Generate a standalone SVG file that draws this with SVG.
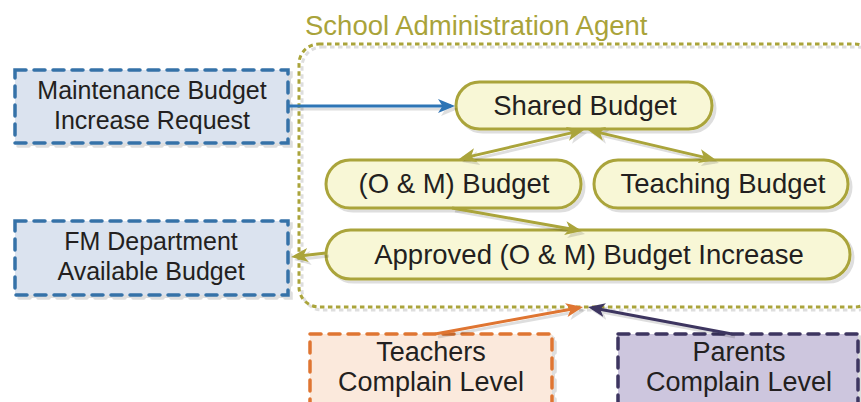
<svg xmlns="http://www.w3.org/2000/svg" width="861" height="402" viewBox="0 0 861 402">
<defs>
<style>
text{font-family:"Liberation Sans",Arial,sans-serif;fill:#231f20;text-anchor:middle}
.t27{font-size:27px}
.t25{font-size:25px}
.node{fill:#f8f7d6;stroke:#aaa43a;stroke-width:3;filter:url(#sh)}
.blue{fill:#dbe3ef;stroke:#3672a8;stroke-width:3.5;stroke-dasharray:11 8;stroke-linecap:round;filter:url(#sh)}
.orange{fill:#fbe9dc;stroke:#df7530;stroke-width:3.5;stroke-dasharray:11 8;stroke-linecap:round;filter:url(#sh)}
.purple{fill:#cdc6de;stroke:#3e3660;stroke-width:3.5;stroke-dasharray:11 8;stroke-linecap:round;filter:url(#sh)}
.conn{fill:none;stroke-width:3}
</style>
<filter id="sh" x="-10%" y="-10%" width="130%" height="140%">
<feDropShadow dx="3" dy="3" stdDeviation="0.6" flood-color="#000" flood-opacity="0.13"/>
</filter>
<marker id="aO" markerUnits="userSpaceOnUse" markerWidth="18" markerHeight="15" refX="13" refY="7" orient="auto-start-reverse" viewBox="0 0 18 15">
<path d="M0,0 L17,7 L0,14 L4.5,7 z" fill="#aaa43a"/>
</marker>
<marker id="aB" markerUnits="userSpaceOnUse" markerWidth="18" markerHeight="15" refX="13" refY="7" orient="auto" viewBox="0 0 18 15">
<path d="M0,0 L17,7 L0,14 L4.5,7 z" fill="#2f74b5"/>
</marker>
<marker id="aR" markerUnits="userSpaceOnUse" markerWidth="18" markerHeight="15" refX="13" refY="7" orient="auto" viewBox="0 0 18 15">
<path d="M0,0 L17,7 L0,14 L4.5,7 z" fill="#df7530"/>
</marker>
<marker id="aP" markerUnits="userSpaceOnUse" markerWidth="18" markerHeight="15" refX="13" refY="7" orient="auto" viewBox="0 0 18 15">
<path d="M0,0 L17,7 L0,14 L4.5,7 z" fill="#3e3660"/>
</marker>
</defs>
<rect width="861" height="402" fill="#ffffff"/>

<g id="container">
<rect x="299" y="44" width="576" height="263" rx="20" fill="none" stroke="#aaa43a" stroke-width="3" stroke-dasharray="4.5 3.5" filter="url(#sh)"/>
<text x="305" y="35" style="font-size:27.5px;fill:#a9a33a;text-anchor:start">School Administration Agent</text>
</g>

<g id="maintenance">
<rect class="blue" x="15" y="70" width="273" height="73"/>
<text class="t25" x="152" y="99">Maintenance Budget</text>
<text class="t25" x="152" y="129">Increase Request</text>
</g>

<g id="fm">
<rect class="blue" x="15" y="221" width="273" height="74"/>
<text class="t25" x="151" y="250">FM Department</text>
<text class="t25" x="151" y="280">Available Budget</text>
</g>

<g id="shared">
<rect class="node" x="456" y="82" width="256" height="47" rx="23.5"/>
<text x="585" y="115" style="font-size:27.5px">Shared Budget</text>
</g>

<g id="om">
<rect class="node" x="326" y="160" width="255" height="48" rx="24"/>
<text x="454" y="193" style="font-size:27.5px">(O &amp; M) Budget</text>
</g>

<g id="teaching">
<rect class="node" x="594" y="160" width="254" height="48" rx="24"/>
<text x="723" y="193" style="font-size:27.5px">Teaching Budget</text>
</g>

<g id="approved">
<rect class="node" x="326" y="230" width="524" height="49" rx="24.5"/>
<text x="589" y="264" style="font-size:27.5px">Approved (O &amp; M) Budget Increase</text>
</g>

<g id="teachers">
<rect class="orange" x="310" y="334" width="242" height="100"/>
<text class="t27" x="431" y="361">Teachers</text>
<text class="t27" x="431" y="391">Complain Level</text>
</g>

<g id="parents">
<rect class="purple" x="618" y="334" width="240" height="100"/>
<text class="t27" x="739" y="361">Parents</text>
<text class="t27" x="739" y="391">Complain Level</text>
</g>

<g id="connectors" filter="url(#sh)">
<line class="conn" x1="288" y1="106" x2="451" y2="106" stroke="#2f74b5" stroke-width="2.5" marker-end="url(#aB)"/>
<line class="conn" x1="580.1" y1="130.9" x2="462.9" y2="158.1" stroke="#aaa43a" marker-start="url(#aO)" marker-end="url(#aO)"/>
<line class="conn" x1="591.9" y1="130.9" x2="712.1" y2="159.1" stroke="#aaa43a" marker-start="url(#aO)" marker-end="url(#aO)"/>
<line class="conn" x1="452" y1="208" x2="578.1" y2="230.3" stroke="#aaa43a" marker-end="url(#aO)"/>
<line class="conn" x1="326" y1="253" x2="295" y2="256.5" stroke="#aaa43a" marker-end="url(#aO)"/>
<line class="conn" x1="435" y1="334" x2="579.1" y2="307.7" stroke="#df7530" marker-end="url(#aR)"/>
<line class="conn" x1="732" y1="334" x2="591.9" y2="307.7" stroke="#3e3660" marker-end="url(#aP)"/>
</g>
</svg>
